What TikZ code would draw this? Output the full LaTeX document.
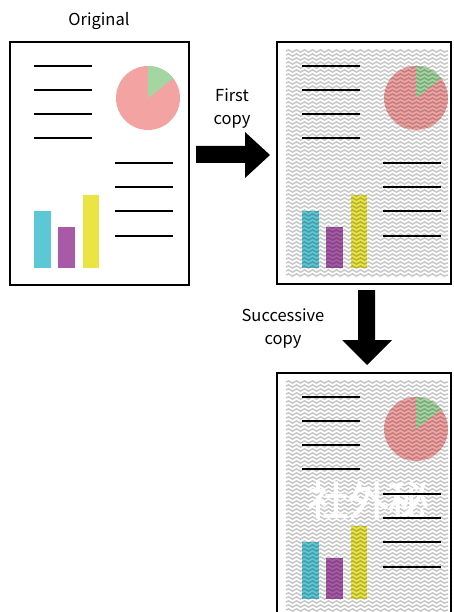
\documentclass[tikz,border=0pt]{standalone}
\usepackage{fontspec}
\setmainfont{Noto Sans CJK JP}
\newfontfamily\jpfont[FakeBold=2.5]{Noto Sans CJK JP}
\usetikzlibrary{decorations.pathmorphing}

\definecolor{piepink}{HTML}{F4A3A3}
\definecolor{piegreen}{HTML}{A3D6A0}
\definecolor{barcyan}{HTML}{5CC8D6}
\definecolor{barpurple}{HTML}{A85AA8}
\definecolor{baryellow}{HTML}{EAE542}

\tikzset{
  textline/.style={line width=1.6pt, black},
  docframe/.style={draw=black, line width=1.6pt, fill=white},
  wavyrow/.style={black, opacity=0.22, line width=1.5pt, decorate,
    decoration={snake, segment length=8pt, amplitude=1.1pt}},
  lbl/.style={font=\fontsize{16.5}{23}\selectfont, align=center, inner sep=0pt},
  stampfont/.style={font=\jpfont\fontsize{40}{40}\selectfont, text=white, inner sep=0pt},
  blockarrow/.style={fill=black},
}

% pie chart and bar chart of one page
\newcommand\pagecharts{%
  \fill[piepink] (148,98) circle[radius=32];
  \fill[piegreen] (148,98) -- ++(-90:32) arc[start angle=-90, end angle=-38, radius=32] -- cycle;
  \fill[barcyan] (34,211) rectangle (51,268);
  \fill[barpurple] (58,227) rectangle (75,268);
  \fill[baryellow] (83,195) rectangle (99,268);
}
% text lines of one page
\newcommand\pagelines{%
  \foreach \ly in {66,90,114,138} \draw[textline] (34,\ly) -- (92,\ly);
  \foreach \ly in {163,187,211,236} \draw[textline] (115,\ly) -- (173,\ly);
}

\begin{document}
\begin{tikzpicture}[x=1pt, y=-1pt]
\useasboundingbox (0,0) rectangle (454,612);
\clip (0,0) rectangle (454,612);

% original page
\node[lbl] (origtitle) at (99,21) {Original};
\draw[docframe] (10,42) rectangle (189,285);
\pagecharts
\pagelines

% first copy
\node[lbl] (firstlbl) at (232,109) {First\\copy};
\fill[blockarrow] (196,146) -- (245,146) -- (245,132) -- (270,155) -- (245,178)
  -- (245,163) -- (196,163) -- cycle;
\draw[docframe] (277,42) rectangle (451,284);
\begin{scope}[shift={(268,0)}]
  \pagecharts
\end{scope}
\foreach \wy in {51,55,...,276} \draw[wavyrow] (286,\wy) -- (448,\wy);
\begin{scope}[shift={(268,0)}]
  \pagelines
\end{scope}

% successive copy
\node[lbl] (succlbl) at (283,329) {Successive\\copy};
\fill[blockarrow] (358,290) -- (358,340) -- (342,340) -- (367,365) -- (392,340)
  -- (375,340) -- (375,290) -- cycle;
\draw[docframe] (277,373) rectangle (451,616);
\begin{scope}[shift={(268,331)}]
  \pagecharts
\end{scope}
\foreach \wy in {382,386,...,612} \draw[wavyrow] (286,\wy) -- (448,\wy);
\node[stampfont] (stamp) at (368,500) {社外秘};
\begin{scope}[shift={(268,331)}]
  \pagelines
\end{scope}
\end{tikzpicture}
\end{document}
